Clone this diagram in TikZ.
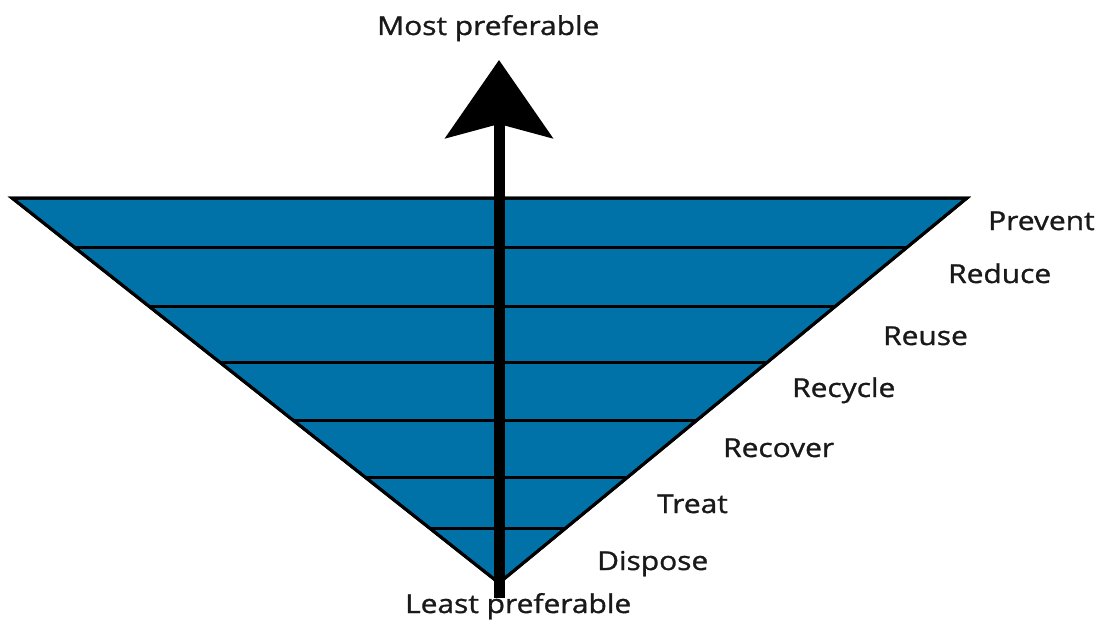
\documentclass[tikz,border=0pt]{standalone}
\usepackage{fontspec}
\setmainfont{Open Sans}[FakeStretch=1.15,FakeBold=1.2]
\usetikzlibrary{arrows.meta,positioning}
\definecolor{pyramid}{RGB}{0,114,168}

\begin{document}
\begin{tikzpicture}[x=1pt,y=-1pt,
level/.style={
draw=black,
line width=3pt,
line join=miter,
fill=pyramid
},
stage/.style={
draw=none,
fill=none,
inner sep=0pt,
anchor=base west,
color=black!90,
font=\fontsize{26}{30}\selectfont
},
axis/.style={
line width=11pt,
-{Stealth[length=78pt,width=107pt,inset=14pt]}
}]

\useasboundingbox (0,0) rectangle (1099,623);

\coordinate (tl) at (12,198);
\coordinate (tr) at (967,198);
\coordinate (apex) at (499,583);

\filldraw[level] (tl) -- (tr) -- (apex) -- cycle;
\begin{scope}
\clip (tl) -- (tr) -- (apex) -- cycle;
\foreach \y in {247,306,362,420,477,528}
  \draw[line width=3pt] (0,\y) -- (1099,\y);
\end{scope}
\draw[level,fill=none] (tl) -- (tr) -- (apex) -- cycle;

\node [stage] (prevent) at (988,230) {Prevent};
\node [stage] (reduce) at (948,283) {Reduce};
\node [stage] (reuse) at (883,345) {Reuse};
\node [stage] (recycle) at (792,397) {Recycle};
\node [stage] (recover) at (723,457) {Recover};
\node [stage] (treat) at (657,513) {Treat};
\node [stage] (dispose) at (597,570) {Dispose};

\node [stage] (most) at (377,35) {Most preferable};
\node [stage] (least) at (405,613) {Least preferable};

\coordinate (bottom) at (499,598);
\coordinate (top) at (499,60);
\draw[axis] (bottom) -- (top);

\end{tikzpicture}
\end{document}
